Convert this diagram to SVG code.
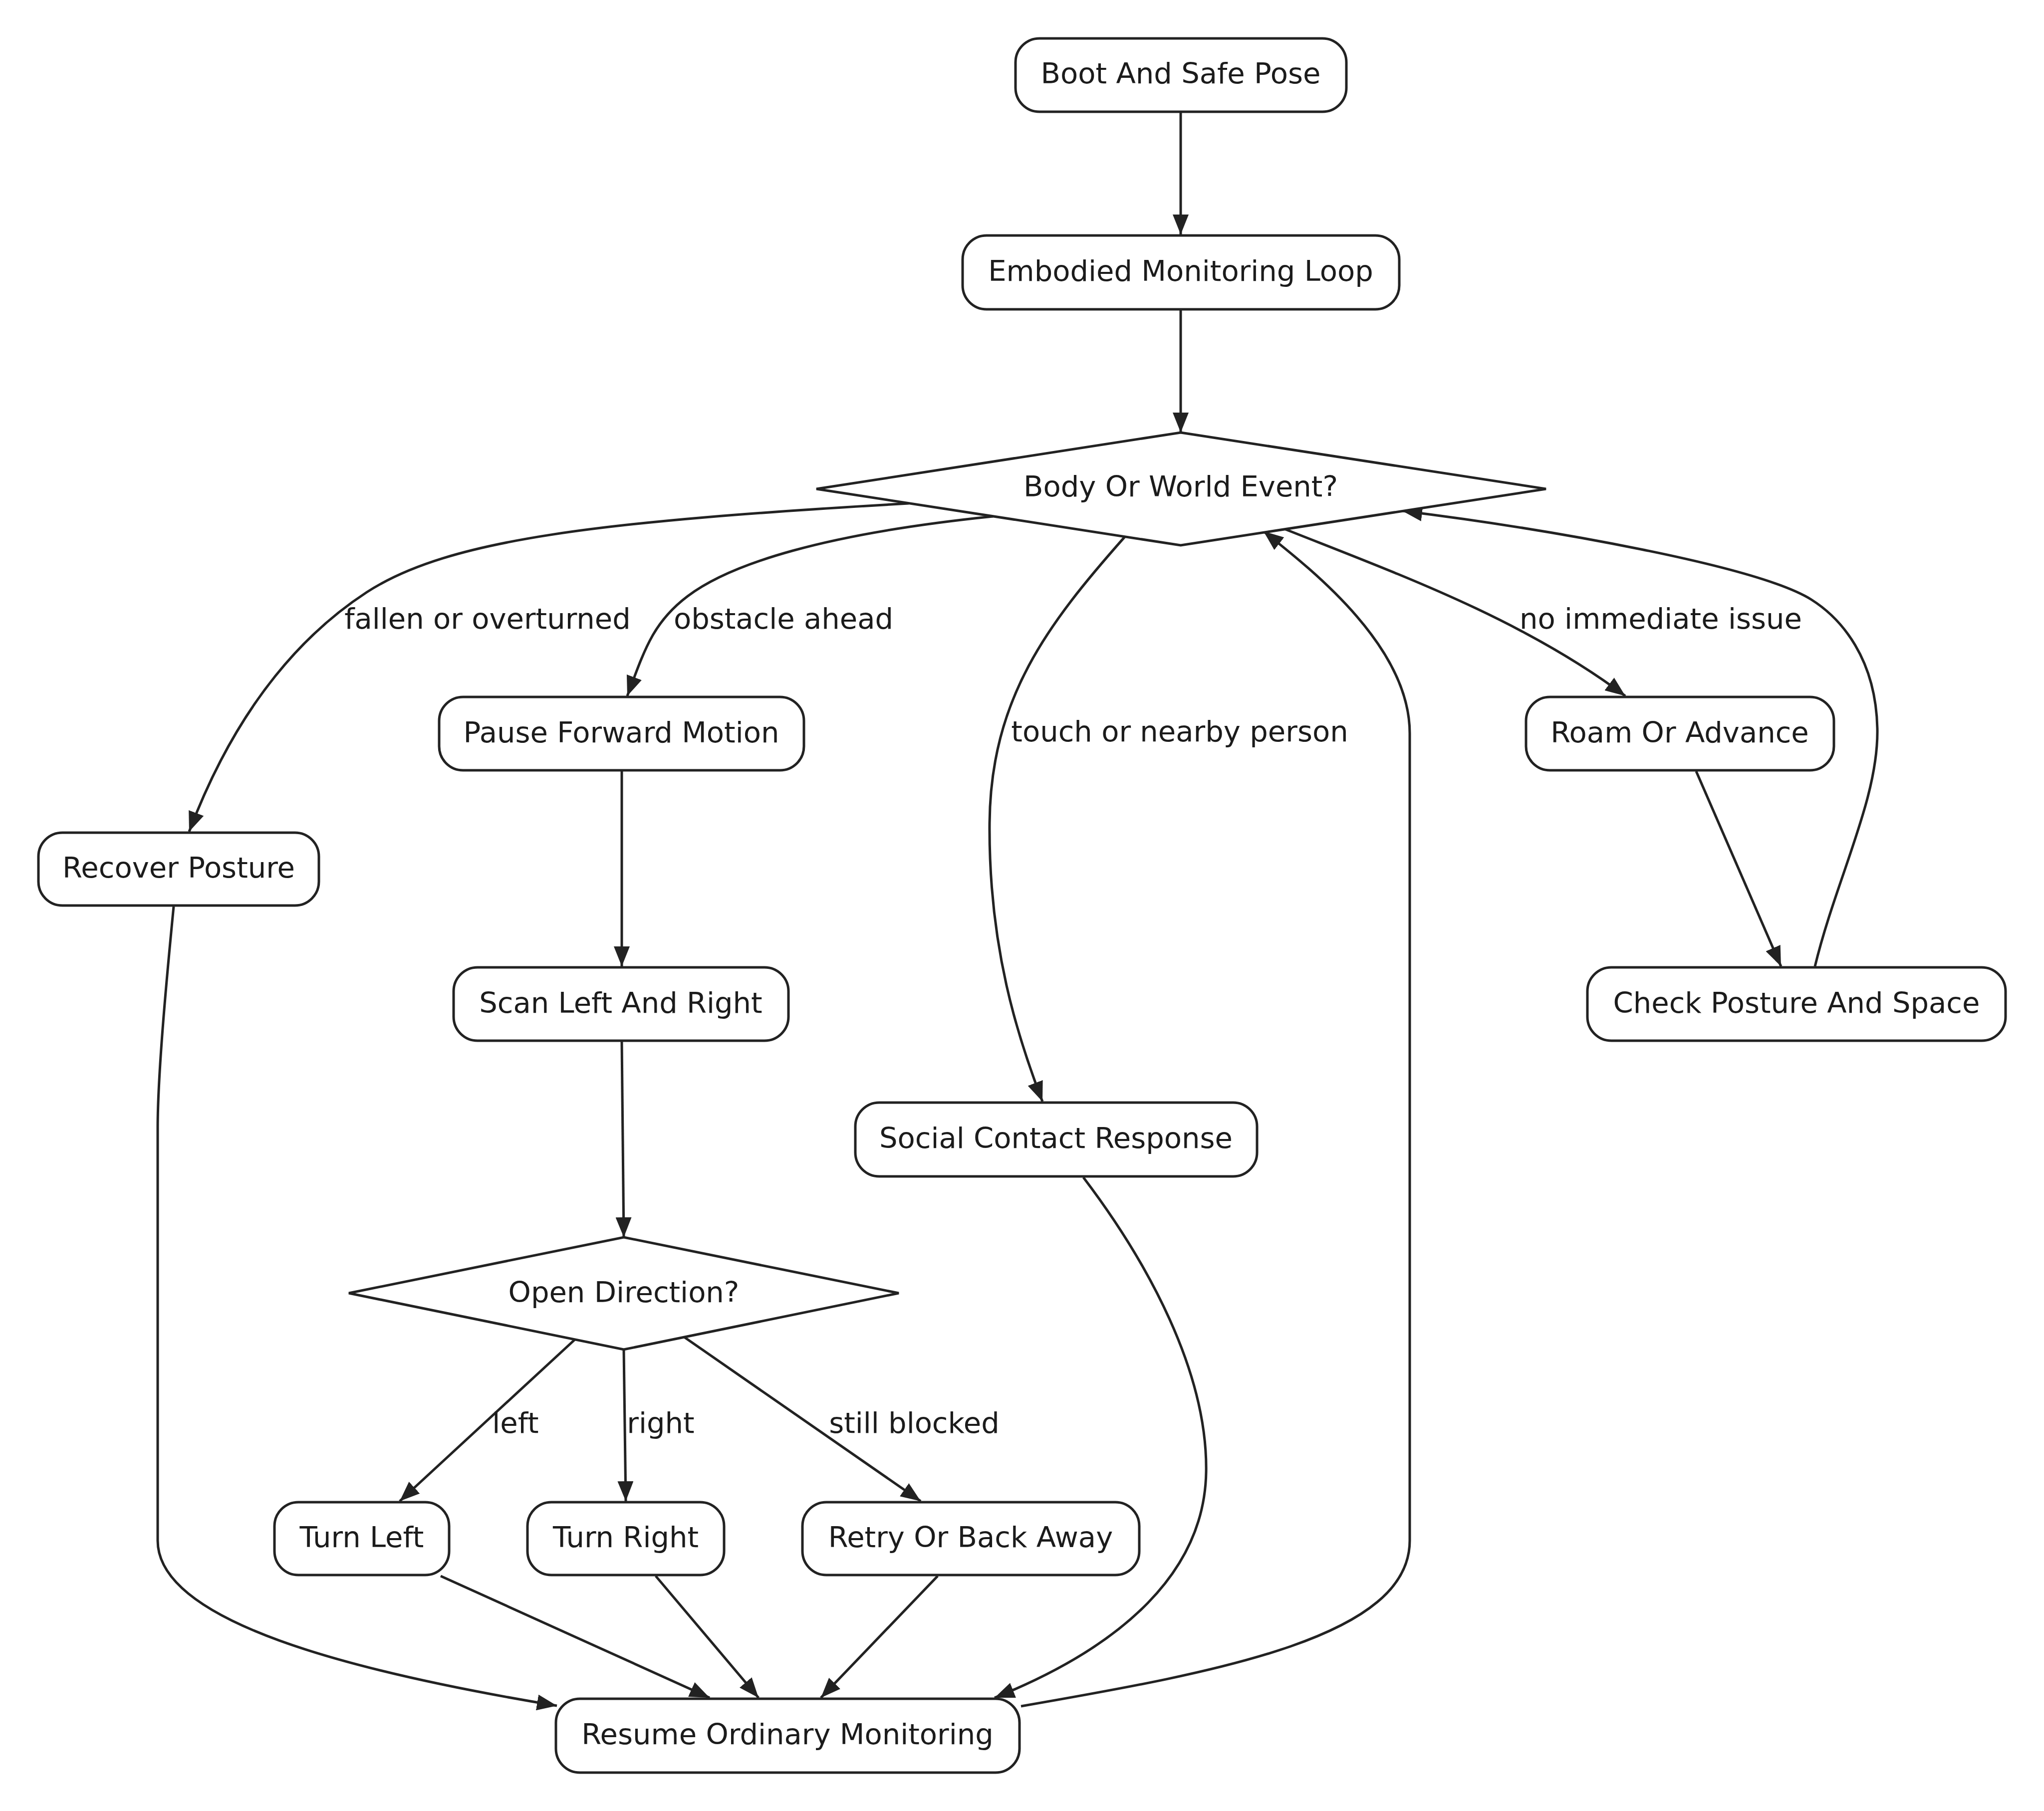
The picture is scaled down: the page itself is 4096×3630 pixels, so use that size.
<svg xmlns="http://www.w3.org/2000/svg" width="4096" height="3630" viewBox="0 0 4096 3630">
<style>
.node rect,.node polygon{fill:#ffffff;stroke:#222222;stroke-width:5}
.node text,.lbl{font-family:"DejaVu Sans","Liberation Sans",sans-serif;font-size:57.6px;fill:#1b1b1b;text-anchor:middle}
.edge{fill:none;stroke:#222222;stroke-width:5}
</style>
<defs>
<marker id="arr" markerUnits="userSpaceOnUse" viewBox="0 0 40 32" markerWidth="40" markerHeight="32" refX="40" refY="16" orient="auto">
<path d="M0,0 L40,16 L0,32 z" fill="#222222"/>
</marker>
</defs>
<rect width="4096" height="3630" fill="#ffffff"/>
<g id="connectors">
<path class="edge" d="M2366,226 L2366,470" marker-end="url(#arr)"/>
<path class="edge" d="M2366,622 L2366,867" marker-end="url(#arr)"/>
<path class="edge" d="M1821,1009 C1200,1045 900,1080 735,1187 C620,1262 480,1400 379,1667" marker-end="url(#arr)"/>
<path class="edge" d="M1990,1035 C1650,1070 1464,1130 1378,1195 C1309,1247 1292,1301 1257,1395" marker-end="url(#arr)"/>
<path class="edge" d="M2254,1076 C2100,1250 1985,1400 1983,1650 C1981,1900 2040,2080 2089,2208" marker-end="url(#arr)"/>
<path class="edge" d="M2576,1061 C2800,1150 3050,1240 3257,1395" marker-end="url(#arr)"/>
<path class="edge" d="M3399,1546 L3569,1937" marker-end="url(#arr)"/>
<path class="edge" d="M3637,1937 C3680,1760 3765,1600 3762,1460 C3759,1320 3690,1240 3630,1202 C3522,1134 3100,1060 2810,1024" marker-end="url(#arr)"/>
<path class="edge" d="M1246,1546 L1246,1937" marker-end="url(#arr)"/>
<path class="edge" d="M1246,2088 L1250,2480" marker-end="url(#arr)"/>
<path class="edge" d="M1152,2685 L801,3009" marker-end="url(#arr)"/>
<path class="edge" d="M1250,2705 L1254,3009" marker-end="url(#arr)"/>
<path class="edge" d="M1371,2680 L1845,3009" marker-end="url(#arr)"/>
<path class="edge" d="M348,1817 C335,1950 316,2150 316,2260 L316,3088 C316,3250 700,3350 1116,3419" marker-end="url(#arr)"/>
<path class="edge" d="M883,3159 L1422,3403" marker-end="url(#arr)"/>
<path class="edge" d="M1314,3159 L1520,3403" marker-end="url(#arr)"/>
<path class="edge" d="M1879,3159 L1645,3403" marker-end="url(#arr)"/>
<path class="edge" d="M2171,2360 C2300,2530 2420,2750 2417,2950 C2414,3150 2250,3300 1993,3403" marker-end="url(#arr)"/>
<path class="edge" d="M2046,3420 C2450,3350 2825,3280 2825,3088 L2825,1470 C2825,1300 2640,1150 2532,1065" marker-end="url(#arr)"/>
<text class="lbl" x="977" y="1260">fallen or overturned</text>
<text class="lbl" x="1570" y="1260">obstacle ahead</text>
<text class="lbl" x="3328" y="1260">no immediate issue</text>
<text class="lbl" x="2364" y="1486">touch or nearby person</text>
<text class="lbl" x="1033" y="2872">left</text>
<text class="lbl" x="1324" y="2872">right</text>
<text class="lbl" x="1832" y="2872">still blocked</text>
</g>
<g id="boot" class="node"><rect x="2035" y="77" width="663" height="147" rx="48" ry="48"/><text x="2366" y="167">Boot And Safe Pose</text></g>
<g id="embodied" class="node"><rect x="1929" y="472" width="875" height="148" rx="48" ry="48"/><text x="2366" y="563">Embodied Monitoring Loop</text></g>
<g id="event" class="node"><polygon points="2366,867 3098,980 2366,1093 1636,980"/><text x="2366" y="995">Body Or World Event?</text></g>
<g id="pause" class="node"><rect x="880" y="1397" width="731" height="147" rx="48" ry="48"/><text x="1245" y="1488">Pause Forward Motion</text></g>
<g id="recover" class="node"><rect x="77" y="1669" width="562" height="146" rx="48" ry="48"/><text x="358" y="1759">Recover Posture</text></g>
<g id="roam" class="node"><rect x="3058" y="1397" width="617" height="147" rx="48" ry="48"/><text x="3366" y="1488">Roam Or Advance</text></g>
<g id="check" class="node"><rect x="3181" y="1939" width="838" height="147" rx="48" ry="48"/><text x="3600" y="2030">Check Posture And Space</text></g>
<g id="scan" class="node"><rect x="909" y="1939" width="671" height="147" rx="48" ry="48"/><text x="1244" y="2030">Scan Left And Right</text></g>
<g id="social" class="node"><rect x="1714" y="2210" width="805" height="148" rx="48" ry="48"/><text x="2116" y="2301">Social Contact Response</text></g>
<g id="open" class="node"><polygon points="1250,2480 1801,2592 1250,2705 699,2592"/><text x="1250" y="2610">Open Direction?</text></g>
<g id="turnleft" class="node"><rect x="550" y="3011" width="350" height="146" rx="48" ry="48"/><text x="725" y="3101">Turn Left</text></g>
<g id="turnright" class="node"><rect x="1057" y="3011" width="394" height="146" rx="48" ry="48"/><text x="1254" y="3101">Turn Right</text></g>
<g id="retry" class="node"><rect x="1608" y="3011" width="675" height="146" rx="48" ry="48"/><text x="1945" y="3101">Retry Or Back Away</text></g>
<g id="resume" class="node"><rect x="1114" y="3405" width="929" height="148" rx="48" ry="48"/><text x="1578" y="3496">Resume Ordinary Monitoring</text></g>
</svg>
